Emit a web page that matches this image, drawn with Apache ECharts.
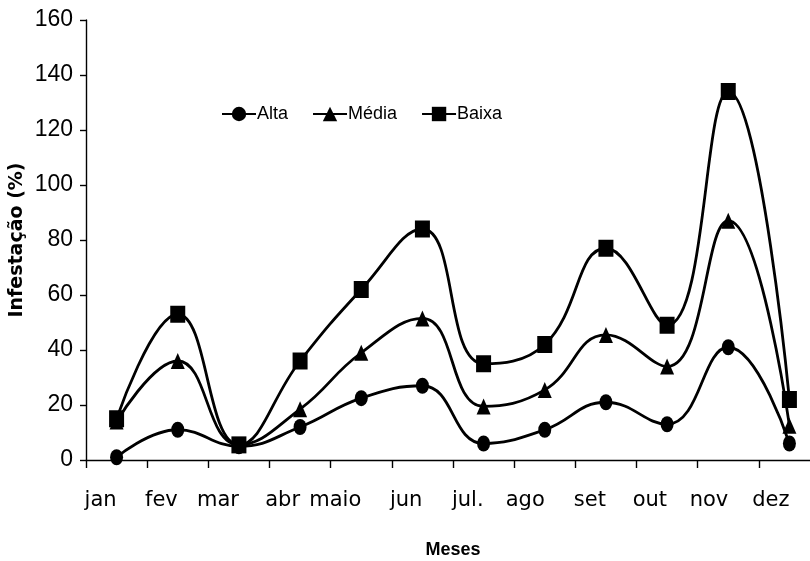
<!DOCTYPE html>
<html>
<head>
<meta charset="utf-8">
<script src="https://cdn.jsdelivr.net/npm/echarts@6/dist/echarts.min.js"></script>
<style>html,body{margin:0;padding:0;background:#fff}#c{width:810px;height:561px}</style>
</head>
<body>
<div id="c"></div>
<script>
var months = ['jan','fev','mar','abr','maio','jun','jul.','ago','set','out','nov','dez'];
var alta  = [1, 11, 5, 12, 22.5, 27, 6, 11, 21, 13, 41, 6];
var media = [14, 36, 5.5, 18.5, 39, 51.5, 19.5, 25.5, 45.5, 34, 87, 12.5];
var baixa = [15, 53, 5.5, 36, 62, 84, 35, 42, 77, 49, 134, 22];
var yTicks = {min: 0, max: 160, interval: 20};
var seriesNames = ['Alta', 'Média', 'Baixa'];

var chart = echarts.init(document.getElementById('c'), null, {renderer: 'canvas'});
function mk(name, data, symbol, size) {
  return {
    name: name, type: 'line', data: data, smooth: 0.45,
    symbol: symbol, symbolSize: size, showAllSymbol: true,
    lineStyle: {color: '#000', width: 2.8},
    itemStyle: {color: '#000', borderWidth: 0},
    emphasis: {disabled: true}, z: 3
  };
}
chart.setOption({
  animation: false,
  backgroundColor: '#fff',
  grid: {left: 86, right: -10, top: 20, bottom: 101, containLabel: false, outerBoundsMode: 'none'},
  legend: {
    left: 216, top: 100, itemWidth: 34, itemHeight: 18, itemGap: 24,
    data: seriesNames,
    textStyle: {fontFamily: 'Liberation Sans', fontSize: 18, color: '#000', padding: [0, 0, 0, -4]}
  },
  xAxis: {
    type: 'category', data: months, boundaryGap: true,
    name: 'Meses', nameLocation: 'middle', nameGap: 81, nameMoveOverlap: false,
    nameTextStyle: {fontFamily: 'Liberation Sans', fontWeight: 'bold', fontSize: 18, color: '#000'},
    axisLine: {lineStyle: {color: '#000', width: 1.4}},
    axisTick: {show: true, length: 8, lineStyle: {color: '#000', width: 1.4}},
    axisLabel: {align: 'right', margin: 30, fontFamily: 'DejaVu Sans', fontSize: 21, color: '#000', interval: 0}
  },
  yAxis: {
    type: 'value', min: yTicks.min, max: yTicks.max, interval: yTicks.interval,
    name: 'Infestação (%)', nameLocation: 'middle', nameGap: 59, nameMoveOverlap: false,
    nameTextStyle: {fontFamily: 'DejaVu Sans', fontWeight: 'bold', fontSize: 19, color: '#000'},
    axisLine: {show: true, lineStyle: {color: '#000', width: 1.4}},
    axisTick: {show: true, length: 6, lineStyle: {color: '#000', width: 1.4}},
    splitLine: {show: false},
    axisLabel: {margin: 13, fontFamily: 'Liberation Sans', fontSize: 23, color: '#000'}
  },
  series: [
    mk('Alta', alta, 'circle', [13, 16]),
    mk('Média', media, 'triangle', [14, 16]),
    mk('Baixa', baixa, 'rect', [15, 17])
  ]
});
</script>
</body>
</html>
